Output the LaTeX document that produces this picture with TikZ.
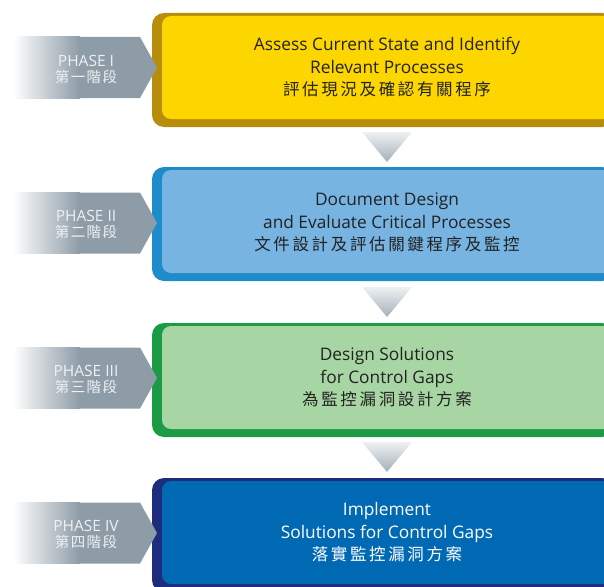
\documentclass[tikz,border=0pt]{standalone}
\usepackage{fontspec}
\setmainfont{Open Sans}
\newfontfamily\cjk[LetterSpace=16]{Noto Sans CJK TC}
\newfontfamily\cjklab[LetterSpace=10]{Noto Sans CJK TC}
\definecolor{yin}{HTML}{FDD600}
\definecolor{yout}{HTML}{B98D0C}
\definecolor{bin}{HTML}{77B4E2}
\definecolor{bout}{HTML}{1E8BCB}
\definecolor{gin}{HTML}{A8D5A4}
\definecolor{gout}{HTML}{1C9B46}
\definecolor{nin}{HTML}{0069B3}
\definecolor{nout}{HTML}{1E2C7C}
\definecolor{agray}{HTML}{8D9CA7}
\definecolor{tlight}{HTML}{EEF1F3}
\definecolor{tdark}{HTML}{A3B0B9}
\definecolor{txt}{HTML}{222222}
\definecolor{labtxt}{HTML}{EEF1F3}
\tikzset{
  boxtext/.style={align=center, font=\fontsize{17.3}{22.5}\selectfont, text=txt, inner sep=0pt},
  labtext/.style={align=center, font=\fontsize{15.5}{16.5}\selectfont, text=labtxt, inner sep=0pt},
}
\begin{document}
\begin{tikzpicture}[x=1pt,y=-1pt]
\useasboundingbox (0,0) rectangle (604,586);
\clip (0,0) rectangle (604,586);
% phase boxes
\foreach \T/\ci/\co in {13/yin/yout,167/bin/bout,323/gin/gout,478/nin/nout}{
  \fill[\co, rounded corners=12pt] (152,\T) rectangle (614,\T+114);
  \fill[\ci, rounded corners=9pt] (162,\T+3) rectangle (624,\T+106);
}
% down triangles
\foreach \T in {132,287,442}{
  \shade[top color=tlight, bottom color=tdark] (362,\T) -- (412,\T) -- (387,\T+30) -- cycle;
}
% phase arrows
\foreach \c in {67.5,223,378,533}{
  \shade[left color=white, right color=agray] (13,\c-30.5) rectangle (80,\c+30.5);
  \fill[agray] (79.5,\c-30.5) -- (140,\c-30.5) -- (157,\c) -- (140,\c+30.5) -- (79.5,\c+30.5) -- cycle;
}
% labels
\node[labtext] (p1) at (86,69.5) {PHASE I\\{\fontsize{14.5}{16.5}\selectfont\cjklab 第一階段}};
\node[labtext] (p2) at (86,224.5) {PHASE II\\{\fontsize{14.5}{16.5}\selectfont\cjklab 第二階段}};
\node[labtext] (p3) at (86,379.5) {PHASE III\\{\fontsize{14.5}{16.5}\selectfont\cjklab 第三階段}};
\node[labtext] (p4) at (86,534.5) {PHASE IV\\{\fontsize{14.5}{16.5}\selectfont\cjklab 第四階段}};
% box texts
\node[boxtext] (t1) at (387,67.5) {Assess Current State and Identify\\Relevant Processes\\{\fontsize{16.5}{22.5}\selectfont\cjk 評估現況及確認有關程序}};
\node[boxtext] (t2) at (387,222.5) {Document Design\\and Evaluate Critical Processes\\{\fontsize{16.5}{22.5}\selectfont\cjk 文件設計及評估關鍵程序及監控}};
\node[boxtext] (t3) at (387,377.5) {Design Solutions\\for Control Gaps\\{\fontsize{16.5}{22.5}\selectfont\cjk 為監控漏洞設計方案}};
\node[boxtext, text=white] (t4) at (387,532.5) {Implement\\Solutions for Control Gaps\\{\fontsize{16.5}{22.5}\selectfont\cjk 落實監控漏洞方案}};
\end{tikzpicture}
\end{document}
